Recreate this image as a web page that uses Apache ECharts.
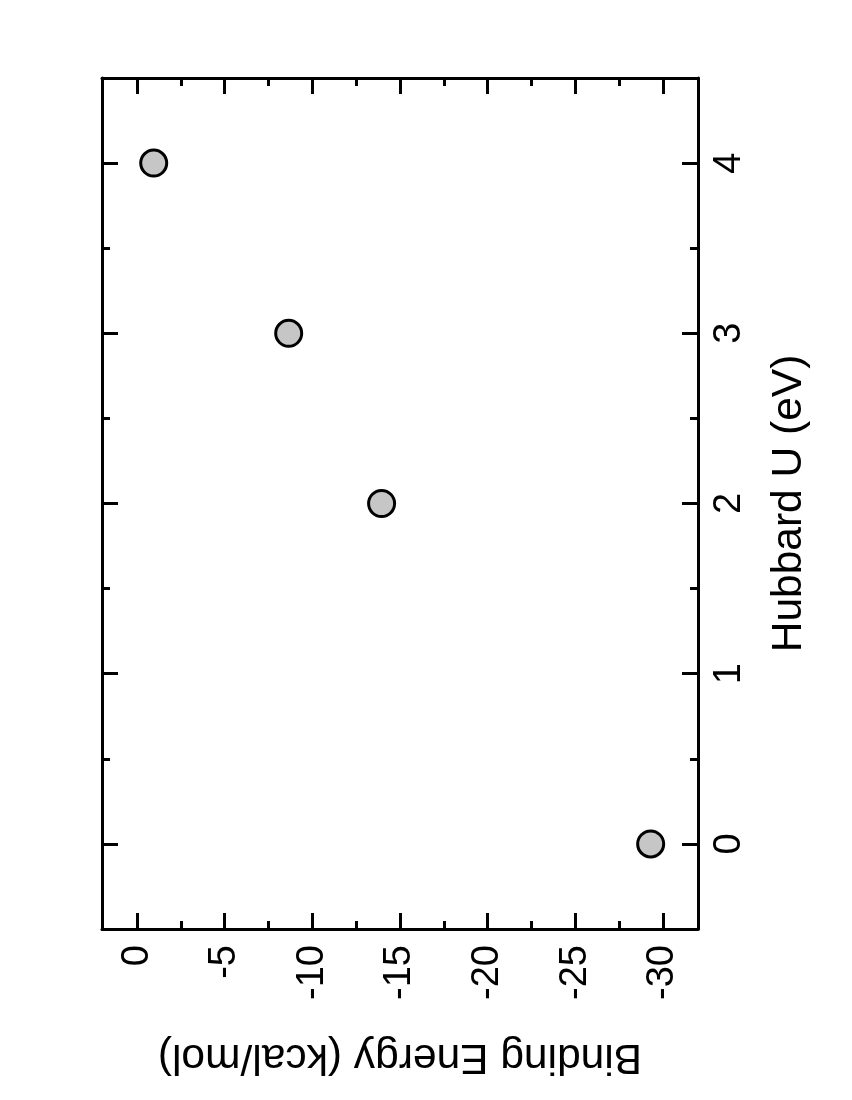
<!DOCTYPE html>
<html>
<head>
<meta charset="utf-8">
<script src="https://cdn.jsdelivr.net/npm/echarts@6/dist/echarts.min.js"></script>
<style>
html,body{margin:0;padding:0;background:#fff;}
#chart{width:852px;height:1100px;}
</style>
</head>
<body>
<div id="chart"></div>
<script>
// Data
const hubbardU = [0, 2, 3, 4];                       // Hubbard U (eV)
const bindingEnergy = [-29.3, -13.95, -8.65, -0.95]; // Binding Energy (kcal/mol)
const energyRange = [-32, 2];
const uRange = [-0.5, 4.5];
const energyTitle = 'Binding Energy (kcal/mol)';
const uTitle = 'Hubbard U (eV)';

const points = hubbardU.map((u, i) => [bindingEnergy[i], u]);

const FONT = 'Liberation Sans, Arial, Helvetica, sans-serif';
const lineStyle = { color: '#000', width: 3 };

function fmtEnergy(v) { return (Math.abs(v % 5) < 1e-9) ? String(v) : ''; }
function fmtU(v) { return (Math.abs(v - Math.round(v)) < 1e-9) ? String(v) : ''; }

const chart = echarts.init(document.getElementById('chart'), null, { renderer: 'canvas' });
chart.setOption({
  backgroundColor: '#fff',
  animation: false,
  grid: { left: 102, right: 154, top: 78, bottom: 171, containLabel: false },
  xAxis: [
    {
      type: 'value', position: 'bottom', min: energyRange[0], max: energyRange[1], inverse: true,
      splitNumber: 7,
      axisLine: { show: true, onZero: false, lineStyle: lineStyle },
      axisTick: { show: true, inside: true, length: 16, lineStyle: lineStyle },
      minorTick: { show: true, splitNumber: 2, length: 8, lineStyle: lineStyle },
      splitLine: { show: false },
      axisLabel: { show: true, rotate: 90, margin: 16, fontSize: 38, color: '#000', fontFamily: FONT,
                   formatter: fmtEnergy, showMinLabel: false, showMaxLabel: false },
      name: energyTitle, nameLocation: 'middle', nameRotate: 180, nameGap: 106,
      nameTextStyle: { fontSize: 42.5, color: '#000', fontFamily: FONT }
    },
    {
      type: 'value', position: 'top', min: energyRange[0], max: energyRange[1], inverse: true,
      splitNumber: 7,
      axisLine: { show: true, onZero: false, lineStyle: lineStyle },
      axisTick: { show: true, inside: true, length: 16, lineStyle: lineStyle },
      minorTick: { show: true, splitNumber: 2, length: 8, lineStyle: lineStyle },
      splitLine: { show: false },
      axisLabel: { show: false }
    }
  ],
  yAxis: [
    {
      type: 'value', position: 'right', min: uRange[0], max: uRange[1],
      splitNumber: 5,
      axisLine: { show: true, onZero: false, lineStyle: lineStyle },
      axisTick: { show: true, inside: true, length: 16, lineStyle: lineStyle },
      minorTick: { show: true, splitNumber: 2, length: 8, lineStyle: lineStyle },
      splitLine: { show: false },
      axisLabel: { show: true, rotate: 90, margin: 13, fontSize: 38, color: '#000', fontFamily: FONT,
                   formatter: fmtU, showMinLabel: false, showMaxLabel: false },
      name: uTitle, nameLocation: 'middle', nameRotate: 90, nameGap: 70,
      nameTextStyle: { fontSize: 42.5, color: '#000', fontFamily: FONT }
    },
    {
      type: 'value', position: 'left', min: uRange[0], max: uRange[1],
      splitNumber: 5,
      axisLine: { show: true, onZero: false, lineStyle: lineStyle },
      axisTick: { show: true, inside: true, length: 16, lineStyle: lineStyle },
      minorTick: { show: true, splitNumber: 2, length: 8, lineStyle: lineStyle },
      splitLine: { show: false },
      axisLabel: { show: false }
    }
  ],
  series: [
    {
      type: 'scatter', xAxisIndex: 0, yAxisIndex: 0,
      data: points,
      symbol: 'circle', symbolSize: 26,
      itemStyle: { color: '#c6c6c6', borderColor: '#000', borderWidth: 3, opacity: 1 },
      emphasis: { disabled: true }
    }
  ]
});
</script>
</body>
</html>
